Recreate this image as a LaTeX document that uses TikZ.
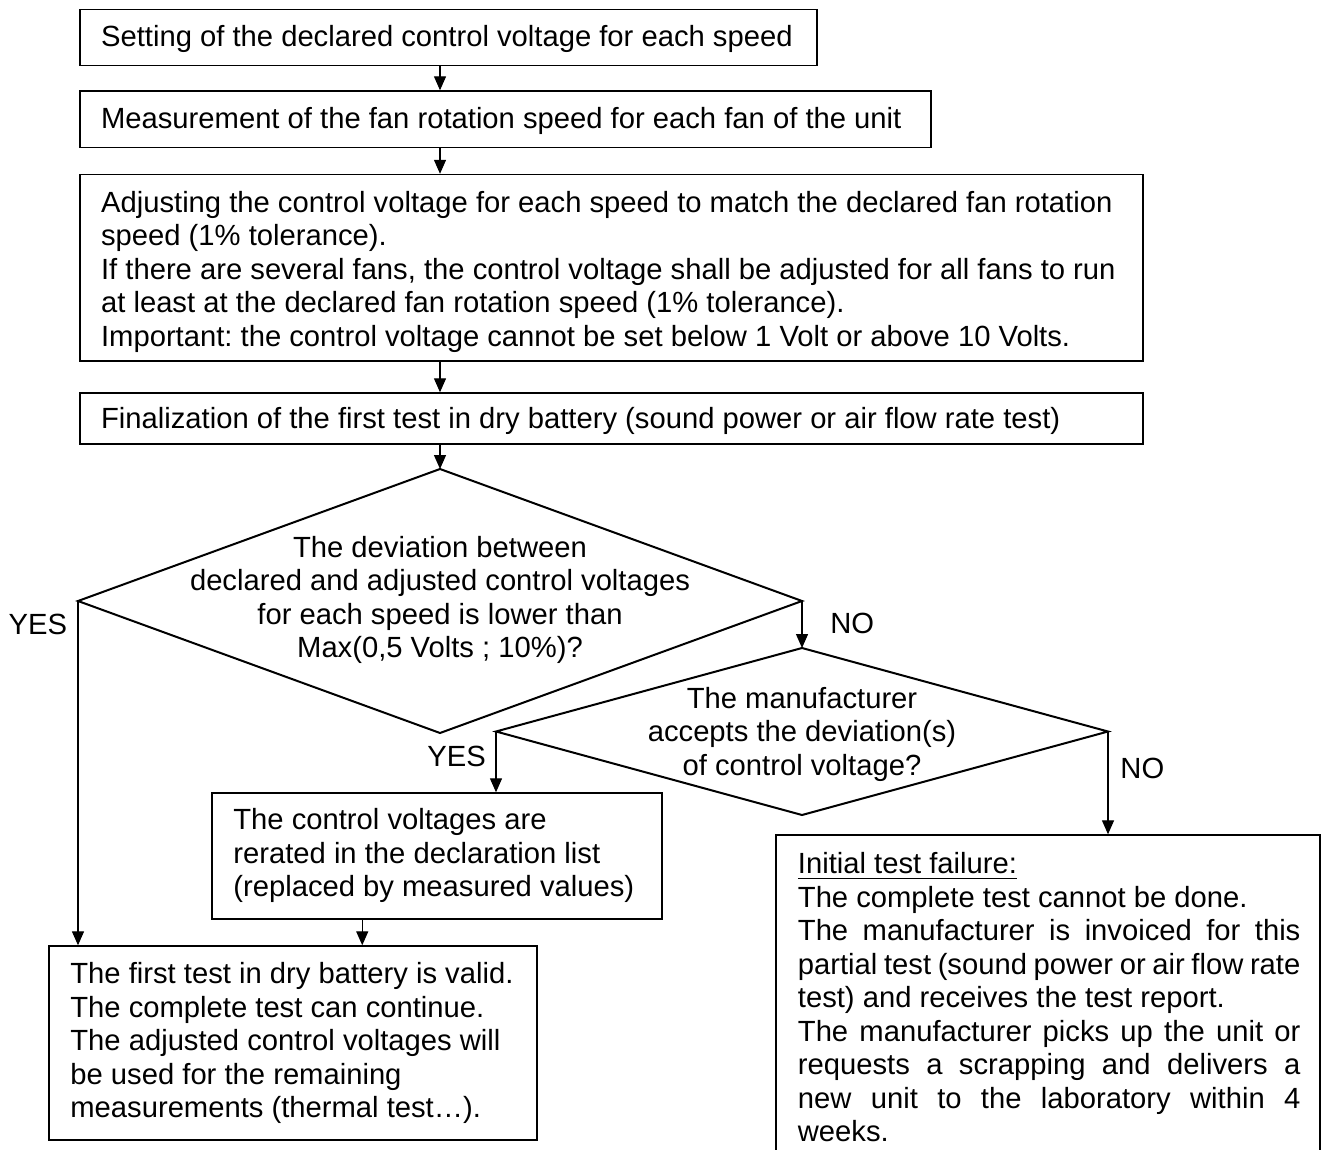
\documentclass[tikz,border=0pt]{standalone}
\usepackage{fontspec}
\setmainfont{Liberation Sans}
\usetikzlibrary{arrows.meta,shapes.geometric,calc}
\newcommand\fs{\fontsize{14.6pt}{16.75pt}\selectfont\frenchspacing}
\newsavebox\ulbox
\newcommand\ulin[1]{\sbox\ulbox{#1}\rlap{\rule[-2.8pt]{\wd\ulbox}{0.9pt}}\usebox\ulbox}
\tikzset{
  box/.style={draw, rectangle, line width=0.7pt, inner sep=0pt},
  dia/.style={draw, diamond, line width=1pt, inner sep=0pt, outer sep=0pt},
  arr/.style={-{Triangle[length=7pt,width=6pt]}, line width=0.65pt},
  txt/.style={inner sep=0pt, font=\fs, align=left, anchor=north west},
  ctxt/.style={inner sep=0pt, font=\fs, align=center, anchor=north},
  lbl/.style={inner sep=0pt, font=\fs, anchor=base west}
}
\begin{document}
\begin{tikzpicture}[x=0.5pt, y=-0.5pt]
\useasboundingbox (0,0) rectangle (1325,1149);
\clip (0,0) rectangle (1325,1149);
\fill[white] (0,0) rectangle (1325,1149);

% boxes
\node[box, minimum width=368.5pt, minimum height=28.1pt] (b1) at (448.5,37.4) {};
\node[box, minimum width=425.5pt, minimum height=28.25pt] (b2) at (505.5,119.25) {};
\node[box, minimum width=531.5pt, minimum height=93.25pt] (b3) at (611.5,267.75) {};
\node[box, minimum width=531.5pt, minimum height=25.5pt] (b4) at (611.5,418.5) {};
\node[dia, minimum width=362pt, minimum height=132pt] (d1) at (440,601) {};
\node[dia, minimum width=306pt, minimum height=83.5pt] (d2) at (802,731.5) {};
\node[box, minimum width=225pt, minimum height=63pt] (b6) at (437,856) {};
\node[box, minimum width=244pt, minimum height=97pt] (b5) at (293,1043) {};
\node[box, minimum width=272pt, minimum height=170pt] (b7) at (1048,1005) {};

% texts
\node[txt] (t1) at (100.7,22.25) {\strut Setting of the declared control voltage for each speed};
\node[txt] (t2) at (100.7,104.85) {\strut Measurement of the fan rotation speed for each fan of the unit};
\node[txt] (t3) at (100.7,188.25) {\strut Adjusting the control voltage for each speed to match the declared fan rotation\\
speed (1\% tolerance).\\
If there are several fans, the control voltage shall be adjusted for all fans to run\\
at least at the declared fan rotation speed (1\% tolerance).\\
Important: the control voltage cannot be set below 1 Volt or above 10 Volts.};
\node[txt] (t4) at (100.7,404.85) {\strut Finalization of the first test in dry battery (sound power or air flow rate test)};
\node[ctxt] (td1) at (440,533.25) {\strut The deviation between\\
declared and adjusted control voltages\\
for each speed is lower than\\
Max(0,5 Volts ; 10\%)?};
\node[ctxt] (td2) at (802,684.5) {\strut The manufacturer\\
accepts the deviation(s)\\
of control voltage?};
\node[txt] (t6) at (233,805.85) {\strut The control voltages are\\
rerated in the declaration list\\
(replaced by measured values)};
\node[txt] (t5) at (70,959.85) {\strut The first test in dry battery is valid.\\
The complete test can continue.\\
The adjusted control voltages will\\
be used for the remaining\\
measurements (thermal test…).};
\node[txt] (t7) at (797.5,849.85) {\strut\ulin{Initial test failure:}\\
The complete test cannot be done.\\
\makebox[251.25pt][s]{The manufacturer is invoiced for this}\\
\makebox[251.25pt][s]{partial test (sound power or air flow rate}\\
test) and receives the test report.\\
\makebox[251.25pt][s]{The manufacturer picks up the unit or}\\
\makebox[251.25pt][s]{requests a scrapping and delivers a}\\
\makebox[251.25pt][s]{new unit to the laboratory within 4}\\
weeks.};

% labels
\node[lbl] (yes1) at (8.3,634.3) {YES};
\node[lbl] (no1) at (830,633) {NO};
\node[lbl] (yes2) at (427,766) {YES};
\node[lbl] (no2) at (1120,778) {NO};

% connectors
\draw[arr] (b1.south -| d1.north) -- (b2.north -| d1.north);
\draw[arr] (b2.south -| d1.north) -- (b3.north -| d1.north);
\draw[arr] (b3.south -| d1.north) -- (b4.north -| d1.north);
\draw[arr] (b4.south -| d1.north) -- (d1.north);
\draw[arr] (d1.west) -- (d1.west |- b5.north);
\draw[arr] (d1.east) -- (d1.east |- d2.north);
\draw[arr] (d2.west) -- (d2.west |- b6.north);
\draw[arr] (d2.east) -- (d2.east |- b7.north);
\path ($(b6.south west)!0.3344!(b6.south east)$) coordinate (p6);
\draw[arr] (p6) -- (p6 |- b5.north);
\end{tikzpicture}
\end{document}
